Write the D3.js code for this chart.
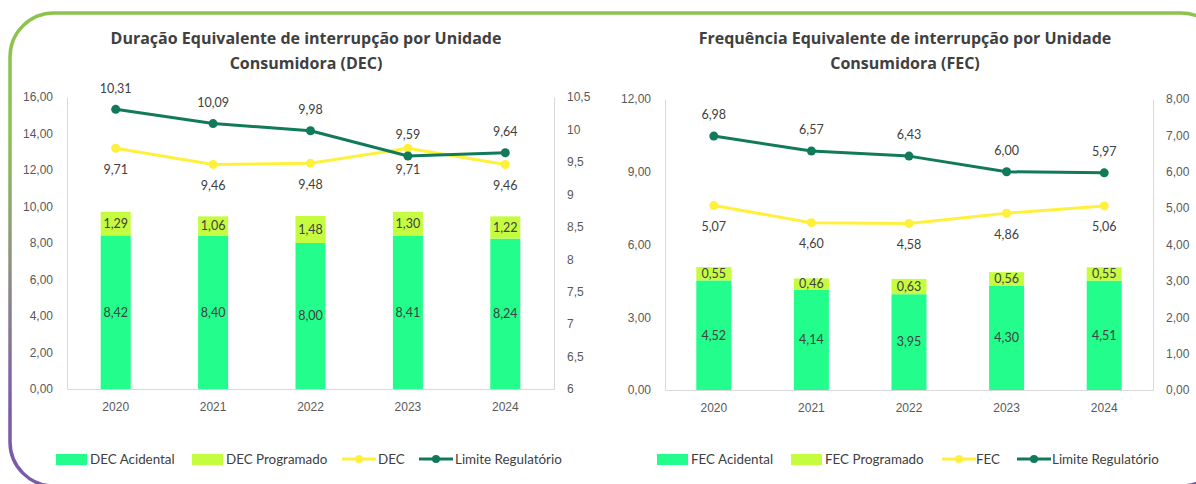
<!DOCTYPE html>
<html>
<head>
<meta charset="utf-8">
<script src="https://cdn.jsdelivr.net/npm/d3@7"></script>
<style>
  body { margin: 0; background: #fff; }
  svg { display: block; font-family: Lato, "Open Sans", sans-serif; }
</style>
</head>
<body>
<div id="chart"></div>
<script>
// categories
var years = ["2020", "2021", "2022", "2023", "2024"];

// DEC values
var decAcidental = [8.42, 8.40, 8.00, 8.41, 8.24];
var decProgramado = [1.29, 1.06, 1.48, 1.30, 1.22];
var decTotal = [9.71, 9.46, 9.48, 9.71, 9.46];
var decLimite = [10.31, 10.09, 9.98, 9.59, 9.64];

// FEC values
var fecAcidental = [4.52, 4.14, 3.95, 4.30, 4.51];
var fecProgramado = [0.55, 0.46, 0.63, 0.56, 0.55];
var fecTotal = [5.07, 4.60, 4.58, 4.86, 5.06];
var fecLimite = [6.98, 6.57, 6.43, 6.00, 5.97];

// axis ticks
var decLeftTicks = [0, 2, 4, 6, 8, 10, 12, 14, 16];
var decRightTicks = [6, 6.5, 7, 7.5, 8, 8.5, 9, 9.5, 10, 10.5];
var fecLeftTicks = [0, 3, 6, 9, 12];
var fecRightTicks = [0, 1, 2, 3, 4, 5, 6, 7, 8];

var colAcid = "#22fd8c", colProg = "#c6fc40", colLine = "#fff03c", colLim = "#117a5a";
var textCol = "#404040", axisCol = "#595959", gridCol = "#d9d9d9";

var W = 1196, H = 484;
var svg = d3.select("#chart").append("svg").attr("width", W).attr("height", H);

// rounded border with green -> purple gradient
var grad = svg.append("defs").append("linearGradient")
  .attr("id", "borderGrad").attr("gradientUnits", "userSpaceOnUse")
  .attr("x1", 0).attr("y1", 13).attr("x2", 0).attr("y2", 485);
grad.append("stop").attr("offset", 0).attr("stop-color", "#8dc24f");
grad.append("stop").attr("offset", 0.25).attr("stop-color", "#8dc24f");
grad.append("stop").attr("offset", 0.55).attr("stop-color", "#8f8f86");
grad.append("stop").attr("offset", 0.85).attr("stop-color", "#7b5aa8");
grad.append("stop").attr("offset", 1).attr("stop-color", "#7b5aa8");

svg.append("rect")
  .attr("x", 10).attr("y", 13).attr("width", 1215).attr("height", 473)
  .attr("rx", 44).attr("ry", 44)
  .attr("fill", "none").attr("stroke", "url(#borderGrad)").attr("stroke-width", 3.5);

var fmt2 = function(v) { return d3.format(".2f")(v).replace(".", ","); };
var fmtR = function(v) { return String(v).replace(".", ","); };

function drawChart(cfg) {
  var g = svg.append("g");

  // title
  [cfg.title1, cfg.title2].forEach(function(t, k) {
    g.append("text")
      .attr("x", cfg.titleX).attr("y", 44 + k * 25)
      .attr("text-anchor", "middle").attr("font-weight", "bold")
      .attr("font-family", "'Open Sans', sans-serif")
      .attr("font-size", 16).attr("fill", textCol)
      .text(t);
  });

  var x = d3.scaleBand().domain(years).range([cfg.left, cfg.right]);
  var y = d3.scaleLinear().domain(cfg.leftDomain).range([cfg.bottom, cfg.top]);
  var y2 = d3.scaleLinear().domain(cfg.rightDomain).range([cfg.bottom, cfg.top]);

  // axes
  var ax = g.append("g").attr("transform", "translate(" + cfg.left + ",0)")
    .call(d3.axisLeft(y).tickValues(cfg.leftTicks).tickFormat(fmt2).tickSize(0).tickPadding(14));
  var ax2 = g.append("g").attr("transform", "translate(" + cfg.right + ",0)")
    .call(d3.axisRight(y2).tickValues(cfg.rightTicks).tickFormat(cfg.rightFormat).tickSize(0).tickPadding(13));
  var axb = g.append("g").attr("transform", "translate(0," + cfg.bottom + ")")
    .call(d3.axisBottom(x).tickSize(0).tickPadding(13));
  [ax, ax2, axb].forEach(function(a) {
    a.select(".domain").attr("stroke", gridCol);
    a.selectAll("text").attr("font-size", 12).attr("fill", axisCol).attr("font-family", null);
  });

  var bw = cfg.barWidth;
  var cx = function(i) { return x(years[i]) + x.bandwidth() / 2; };

  // stacked bars
  var bars = g.append("g");
  bars.selectAll("rect.acid")
    .data(cfg.acid)
    .enter()
    .append("rect")
    .attr("x", function(d, i) { return cx(i) - bw / 2; })
    .attr("width", bw)
    .attr("y", function(d) { return y(d); })
    .attr("height", function(d) { return y(0) - y(d); })
    .attr("fill", colAcid);
  bars.selectAll("rect.prog")
    .data(cfg.prog)
    .enter()
    .append("rect")
    .attr("x", function(d, i) { return cx(i) - bw / 2; })
    .attr("width", bw)
    .attr("y", function(d, i) { return y(cfg.acid[i] + d); })
    .attr("height", function(d, i) { return y(cfg.acid[i]) - y(cfg.acid[i] + d); })
    .attr("fill", colProg);

  // bar labels
  bars.selectAll("text.acid")
    .data(cfg.acid)
    .enter()
    .append("text")
    .attr("x", function(d, i) { return cx(i); })
    .attr("y", function(d) { return (y(0) + y(d)) / 2; })
    .attr("dy", "0.35em").attr("text-anchor", "middle")
    .attr("font-size", 12.5).attr("fill", textCol)
    .text(fmt2);
  bars.selectAll("text.prog")
    .data(cfg.prog)
    .enter()
    .append("text")
    .attr("x", function(d, i) { return cx(i); })
    .attr("y", function(d, i) { return (y(cfg.acid[i]) + y(cfg.acid[i] + d)) / 2; })
    .attr("dy", "0.35em").attr("text-anchor", "middle")
    .attr("font-size", 12.5).attr("fill", textCol)
    .text(fmt2);

  // lines on secondary axis
  var line = d3.line()
    .x(function(d, i) { return cx(i); })
    .y(function(d) { return y2(d); });

  [[cfg.total, colLine, 21], [cfg.limite, colLim, -21]].forEach(function(s) {
    var lg = g.append("g");
    lg.append("path")
      .datum(s[0])
      .attr("d", line)
      .attr("fill", "none").attr("stroke", s[1]).attr("stroke-width", 3)
      .attr("stroke-linejoin", "round");
    lg.selectAll("circle")
      .data(s[0])
      .enter()
      .append("circle")
      .attr("cx", function(d, i) { return cx(i); })
      .attr("cy", function(d) { return y2(d); })
      .attr("r", 4.5)
      .attr("fill", s[1]);
    lg.selectAll("text")
      .data(s[0])
      .enter()
      .append("text")
      .attr("x", function(d, i) { return cx(i); })
      .attr("y", function(d) { return y2(d) + s[2]; })
      .attr("dy", "0.35em").attr("text-anchor", "middle")
      .attr("font-size", 12.5).attr("fill", textCol)
      .text(fmt2);
  });

  // legend
  var leg = g.append("g").attr("transform", "translate(0,459)");
  var items = cfg.legend;
  items.forEach(function(it, k) {
    if (k < 2) {
      leg.append("rect")
        .attr("x", it.x).attr("y", -5).attr("width", 31).attr("height", 11)
        .attr("fill", k === 0 ? colAcid : colProg);
    } else {
      var c = k === 2 ? colLine : colLim;
      leg.append("line")
        .attr("x1", it.x).attr("x2", it.x + 34).attr("y1", 0).attr("y2", 0)
        .attr("stroke", c).attr("stroke-width", 3);
      leg.append("circle").attr("cx", it.x + 17).attr("cy", 0).attr("r", 4).attr("fill", c);
    }
    leg.append("text")
      .attr("x", it.tx).attr("y", 0).attr("dy", "0.35em")
      .attr("font-size", 13.4).attr("fill", textCol)
      .text(it.label);
  });
}

drawChart({
  title1: "Duração Equivalente de interrupção por Unidade",
  title2: "Consumidora (DEC)",
  titleX: 306,
  left: 67, right: 554, top: 97, bottom: 389,
  leftDomain: [0, 16], rightDomain: [6, 10.5],
  leftTicks: decLeftTicks, rightTicks: decRightTicks, rightFormat: fmtR,
  barWidth: 30,
  acid: decAcidental, prog: decProgramado, total: decTotal, limite: decLimite,
  legend: [
    { x: 56, tx: 90, label: "DEC Acidental" },
    { x: 192, tx: 226, label: "DEC Programado" },
    { x: 342, tx: 378, label: "DEC" },
    { x: 419, tx: 455, label: "Limite Regulatório" }
  ]
});

drawChart({
  title1: "Frequência Equivalente de interrupção por Unidade",
  title2: "Consumidora (FEC)",
  titleX: 905,
  left: 665, right: 1153, top: 99, bottom: 390,
  leftDomain: [0, 12], rightDomain: [0, 8],
  leftTicks: fecLeftTicks, rightTicks: fecRightTicks, rightFormat: fmt2,
  barWidth: 35,
  acid: fecAcidental, prog: fecProgramado, total: fecTotal, limite: fecLimite,
  legend: [
    { x: 657, tx: 691, label: "FEC Acidental" },
    { x: 791, tx: 825, label: "FEC Programado" },
    { x: 942, tx: 976, label: "FEC" },
    { x: 1017, tx: 1052, label: "Limite Regulatório" }
  ]
});
</script>
</body>
</html>
